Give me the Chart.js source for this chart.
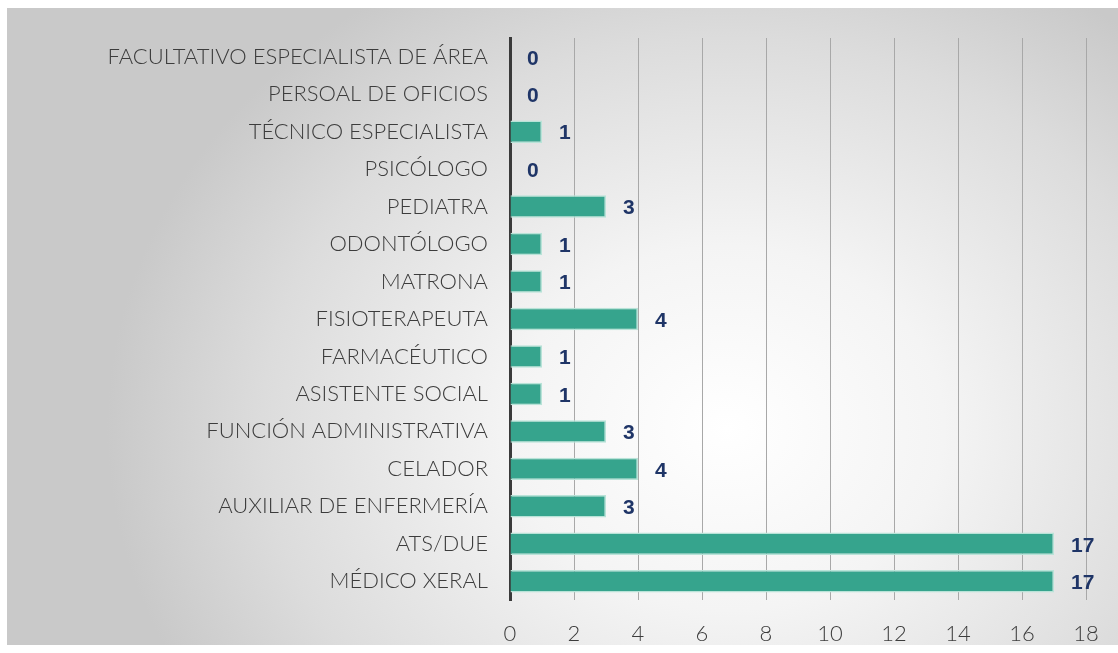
<!DOCTYPE html>
<html>
<head>
<meta charset="utf-8">
<script src="https://cdn.jsdelivr.net/npm/chart.js@4"></script>
<style>
  html, body { margin: 0; padding: 0; background: #fff; }
  #marco {
    position: absolute; left: 7px; top: 8px; width: 1111px; height: 637px;
    background: radial-gradient(ellipse 620px 520px at 720px 420px, #ffffff 0%, #f4f4f4 35%, #dcdcdc 75%, #c9c9c9 100%);
  }
  canvas { display: block; }
</style>
</head>
<body>
<div id="marco"><canvas id="grafico" width="1111" height="637"></canvas></div>
<script>
// Categorías (de arriba a abajo)
const categorias = [
  'FACULTATIVO ESPECIALISTA DE ÁREA', 'PERSOAL DE OFICIOS', 'TÉCNICO ESPECIALISTA', 'PSICÓLOGO',
  'PEDIATRA', 'ODONTÓLOGO', 'MATRONA', 'FISIOTERAPEUTA', 'FARMACÉUTICO', 'ASISTENTE SOCIAL',
  'FUNCIÓN ADMINISTRATIVA', 'CELADOR', 'AUXILIAR DE ENFERMERÍA', 'ATS/DUE', 'MÉDICO XERAL'
];
const valores = [0, 0, 1, 0, 3, 1, 1, 4, 1, 1, 3, 4, 3, 17, 17];
const ejeMax = 18;
const ejePaso = 2;

const fuenteEtiquetas = 'Lato, "Open Sans", sans-serif';

// Etiquetas de valor al final de cada barra
const etiquetasValor = {
  id: 'etiquetasValor',
  afterDatasetsDraw(chart) {
    const ctx = chart.ctx;
    const meta = chart.getDatasetMeta(0);
    ctx.save();
    ctx.font = 'bold 21px "Liberation Sans", Arial, sans-serif';
    ctx.fillStyle = '#1f3567';
    ctx.textAlign = 'left';
    ctx.textBaseline = 'middle';
    meta.data.forEach((bar, i) => {
      ctx.fillText(String(valores[i]), bar.x + 17, bar.y + 2);
    });
    ctx.restore();
  }
};

new Chart(document.getElementById('grafico'), {
  type: 'bar',
  data: {
    labels: categorias,
    datasets: [{
      data: valores,
      backgroundColor: '#36a48d',
      borderColor: '#b9e3d8',
      borderWidth: 1.5,
      barPercentage: 0.6,
      categoryPercentage: 1.0
    }]
  },
  options: {
    indexAxis: 'y',
    responsive: false,
    animation: false,
    layout: { padding: { top: 30, right: 32, left: 10, bottom: 0 } },
    plugins: {
      legend: { display: false },
      tooltip: { enabled: false }
    },
    scales: {
      x: {
        min: 0,
        max: ejeMax,
        ticks: {
          stepSize: ejePaso,
          color: '#3c3c3c',
          font: { family: fuenteEtiquetas, size: 22, weight: 300 },
          padding: 21
        },
        grid: { color: '#a8a8a8', lineWidth: 1, drawTicks: false },
        border: { display: false },
        afterFit(scale) {
          scale.height = 45;
          scale.paddingLeft = 0;
          scale.paddingRight = 0;
        }
      },
      y: {
        ticks: {
          color: '#3c3c3c',
          font: { family: fuenteEtiquetas, size: 22, weight: 300 },
          padding: 22,
          autoSkip: false
        },
        grid: { display: false, drawTicks: false },
        border: { color: '#3a3a3a', width: 3 },
        afterFit(scale) {
          scale.width = 493;
          scale.paddingTop = 0;
          scale.paddingBottom = 0;
        }
      }
    }
  },
  plugins: [etiquetasValor]
});
</script>
</body>
</html>
